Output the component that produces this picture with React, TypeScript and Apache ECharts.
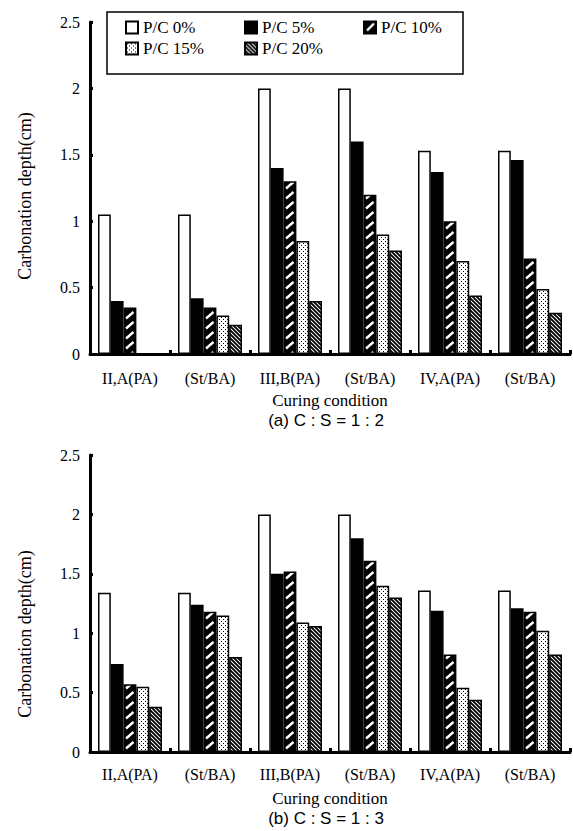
import React, { useEffect, useRef } from 'react';
import * as echarts from 'echarts';

const categories = ['II,A(PA)', '(St/BA)', 'III,B(PA)', '(St/BA)', 'IV,A(PA)', '(St/BA)'];
const seriesNames = ['P/C 0%', 'P/C 5%', 'P/C 10%', 'P/C 15%', 'P/C 20%'];

// (a) C : S = 1 : 2
const pc0a = [1.05, 1.05, 2.0, 2.0, 1.53, 1.53];
const pc5a = [0.4, 0.42, 1.4, 1.6, 1.37, 1.46];
const pc10a = [0.35, 0.35, 1.3, 1.2, 1.0, 0.72];
const pc15a = [0, 0.29, 0.85, 0.9, 0.7, 0.49];
const pc20a = [0, 0.22, 0.4, 0.78, 0.44, 0.31];

// (b) C : S = 1 : 3
const pc0b = [1.34, 1.34, 2.0, 2.0, 1.36, 1.36];
const pc5b = [0.74, 1.24, 1.5, 1.8, 1.19, 1.21];
const pc10b = [0.57, 1.18, 1.52, 1.61, 0.82, 1.18];
const pc15b = [0.55, 1.15, 1.09, 1.4, 0.54, 1.02];
const pc20b = [0.38, 0.8, 1.06, 1.3, 0.44, 0.82];

const yAxisName = 'Carbonation depth(cm)';
const xAxisName = 'Curing condition';
const subtitleA = '(a) C : S = 1 : 2';
const subtitleB = '(b) C : S = 1 : 3';

const SERIF = '"Liberation Serif", "Times New Roman", serif';
const SANS = '"Liberation Sans", Arial, sans-serif';

function makeDots() {
  const c = document.createElement('canvas');
  c.width = 4;
  c.height = 4;
  const ctx = c.getContext('2d')!;
  ctx.fillStyle = '#fff';
  ctx.fillRect(0, 0, 4, 4);
  ctx.fillStyle = '#000';
  ctx.fillRect(1, 1, 1, 1);
  ctx.fillRect(3, 3, 1, 1);
  return c;
}

function makeStripes() {
  const c = document.createElement('canvas');
  c.width = 4;
  c.height = 4;
  const ctx = c.getContext('2d')!;
  ctx.fillStyle = '#fff';
  ctx.fillRect(0, 0, 4, 4);
  ctx.strokeStyle = '#000';
  ctx.lineWidth = 1.9;
  ctx.beginPath();
  ctx.moveTo(-1, -1);
  ctx.lineTo(5, 5);
  ctx.moveTo(-1, 3);
  ctx.lineTo(1, 5);
  ctx.moveTo(3, -1);
  ctx.lineTo(5, 1);
  ctx.stroke();
  return c;
}

function makeDashes() {
  const c = document.createElement('canvas');
  c.width = 80;
  c.height = 10;
  const ctx = c.getContext('2d')!;
  ctx.fillStyle = '#000';
  ctx.fillRect(0, 0, 80, 10);
  ctx.strokeStyle = '#fff';
  ctx.lineWidth = 2.4;
  ctx.beginPath();
  // dash inside the bars (grid-aligned)
  ctx.moveTo(46, 8.5);
  ctx.lineTo(53.5, 2);
  // dash for the legend icon (local coordinates)
  ctx.moveTo(3, 9);
  ctx.lineTo(10, 2);
  ctx.stroke();
  return c;
}

export default function App() {
  const ref = useRef<HTMLDivElement>(null);
  useEffect(() => {
    document.body.style.margin = '0';
    const chart = echarts.init(ref.current!, null, { renderer: 'svg' });
    const fills: any[] = [
      '#fff',
      '#000',
      { image: makeDashes(), repeat: 'repeat' },
      { image: makeDots(), repeat: 'repeat' },
      { image: makeStripes(), repeat: 'repeat' },
    ];
    const dataA = [pc0a, pc5a, pc10a, pc15a, pc20a];
    const dataB = [pc0b, pc5b, pc10b, pc15b, pc20b];

    const mkX = (gridIndex: number, margin: number) => ({
      type: 'category',
      gridIndex,
      data: categories,
      boundaryGap: true,
      name: xAxisName,
      nameLocation: 'middle',
      nameGap: 38,
      nameTextStyle: { fontFamily: SERIF, fontSize: 17, color: '#000' },
      axisLine: { show: true, lineStyle: { color: '#000', width: 3 } },
      axisTick: { show: true, inside: true, length: 4, lineStyle: { color: '#000', width: 3 } },
      axisLabel: { fontFamily: SERIF, fontSize: 16, color: '#000', margin, interval: 0 },
      splitLine: { show: false },
    });
    const mkY = (gridIndex: number) => ({
      type: 'value',
      gridIndex,
      min: 0,
      max: 2.5,
      interval: 0.5,
      axisLine: { show: true, lineStyle: { color: '#000', width: 3 } },
      axisTick: { show: true, inside: true, length: 3, lineStyle: { color: '#000', width: 3 } },
      axisLabel: { fontFamily: SERIF, fontSize: 16, color: '#000', margin: 10 },
      splitLine: { show: false },
    });

    const series: any[] = [];
    [dataA, dataB].forEach((set, gi) => {
      set.forEach((vals, i) => {
        series.push({
          type: 'bar',
          name: seriesNames[i],
          xAxisIndex: gi,
          yAxisIndex: gi,
          data: vals,
          barGap: '0%',
          barCategoryGap: '20%',
          itemStyle: { color: fills[i], borderColor: '#000', borderWidth: 1.5 },
        });
      });
    });

    const textStyle = (text: string, font: string) => ({
      text,
      fill: '#000',
      font,
      align: 'center',
      verticalAlign: 'middle',
      textAlign: 'center',
      textVerticalAlign: 'middle',
    });

    chart.setOption({
      animation: false,
      backgroundColor: '#fff',
      grid: [
        { left: 90, top: 22, width: 480, height: 332, containLabel: false },
        { left: 90, top: 455, width: 480, height: 297, containLabel: false },
      ],
      xAxis: [mkX(0, 16), mkX(1, 14)],
      yAxis: [mkY(0), mkY(1)],
      legend: {
        data: seriesNames,
        left: 125,
        top: 19,
        width: 360,
        padding: 0,
        itemWidth: 12,
        itemHeight: 12,
        itemGap: 4,
        icon: 'rect',
        formatter: '{n|{name}}',
        textStyle: {
          color: '#000',
          fontFamily: SERIF,
          fontSize: 17,
          rich: { n: { width: 97, fontFamily: SERIF, fontSize: 17, lineHeight: 18, color: '#000' } },
        },
        selectedMode: false,
      },
      graphic: [
        {
          type: 'rect',
          z: 0,
          shape: { x: 107, y: 12, width: 356, height: 62 },
          style: { fill: '#fff', stroke: '#000', lineWidth: 1.5 },
        },
        { type: 'text', x: 25, y: 196, rotation: Math.PI / 2, style: textStyle(yAxisName, `18px ${SERIF}`) },
        { type: 'text', x: 25, y: 634, rotation: Math.PI / 2, style: textStyle(yAxisName, `18px ${SERIF}`) },
        { type: 'text', x: 326, y: 420, style: textStyle(subtitleA, `17px ${SANS}`) },
        { type: 'text', x: 326, y: 818, style: textStyle(subtitleB, `17px ${SANS}`) },
      ],
      series,
    });
    return () => chart.dispose();
  }, []);
  return <div ref={ref} style={{ width: 573, height: 831 }} />;
}
